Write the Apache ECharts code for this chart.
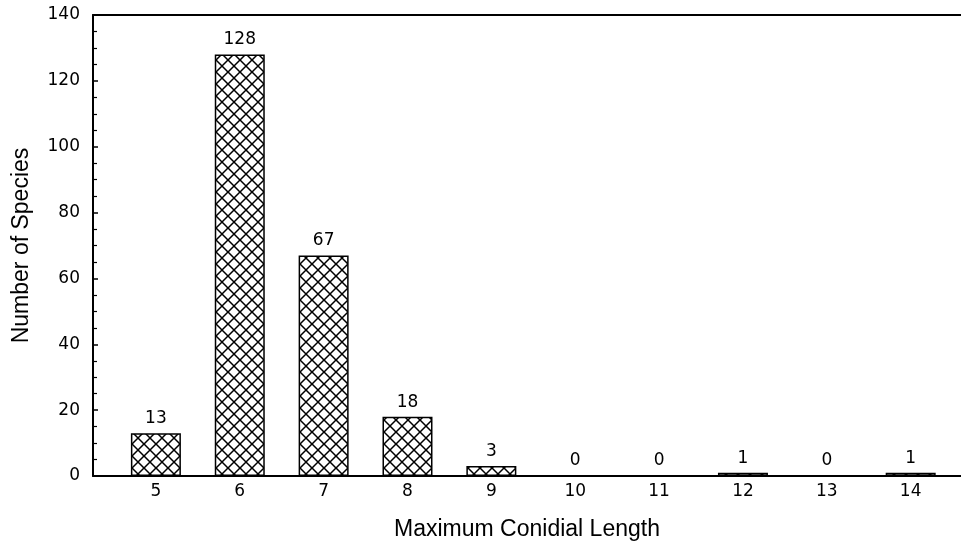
<!DOCTYPE html>
<html>
<head>
<meta charset="utf-8">
<script src="https://cdn.jsdelivr.net/npm/echarts@6/dist/echarts.min.js"></script>
<style>html,body{margin:0;padding:0;background:#fff}#c{width:961px;height:548px}</style>
</head>
<body>
<div id="c"></div>
<script>
const categories = [5, 6, 7, 8, 9, 10, 11, 12, 13, 14];
const counts = [13, 128, 67, 18, 3, 0, 0, 1, 0, 1];
const yTicks = [0, 20, 40, 60, 80, 100, 120, 140];

const pc = document.createElement('canvas');
pc.width = 12; pc.height = 12;
const g = pc.getContext('2d');
g.fillStyle = '#fff'; g.fillRect(0, 0, 12, 12);
g.strokeStyle = '#000'; g.lineWidth = 1.5;
g.beginPath();
g.moveTo(-1, -1); g.lineTo(13, 13);
g.moveTo(13, -1); g.lineTo(-1, 13);
g.stroke();

const chart = echarts.init(document.getElementById('c'));
const font = 'Liberation Sans, Arial, sans-serif';
const numFont = 'DejaVu Sans, sans-serif';
chart.setOption({
  animation: false,
  backgroundColor: '#fff',
  grid: { left: 93, right: 0, top: 15, bottom: 72 },
  xAxis: [{
    type: 'value', min: 4.25, max: 14.6,
    name: 'Maximum Conidial Length', nameLocation: 'middle', nameGap: 42,
    nameTextStyle: { color: '#000', fontSize: 23, fontFamily: font },
    axisLine: { show: true, lineStyle: { color: '#000', width: 2 } },
    axisTick: { show: false },
    splitLine: { show: false },
    axisLabel: { customValues: categories, color: '#000', fontSize: 17, fontFamily: numFont, margin: 7 }
  }, {
    type: 'value', min: 4.25, max: 14.6, position: 'top',
    axisLine: { show: true, lineStyle: { color: '#000', width: 2 } },
    axisTick: { show: false }, axisLabel: { show: false }, splitLine: { show: false }
  }],
  yAxis: {
    type: 'value', min: 0, max: 140, interval: 20,
    name: 'Number of Species', nameLocation: 'middle', nameGap: 60, nameRotate: 90,
    nameTextStyle: { color: '#000', fontSize: 23, fontFamily: font },
    axisLine: { show: true, lineStyle: { color: '#000', width: 2 } },
    axisTick: { show: true, inside: true, length: 5, lineStyle: { color: '#000', width: 1.5 } },
    minorTick: { show: true, splitNumber: 4, length: 4, lineStyle: { color: '#000', width: 1.2 } },
    splitLine: { show: false },
    axisLabel: { color: '#000', fontSize: 17, fontFamily: numFont, margin: 13,
      customValues: yTicks }
  },
  series: [{
    type: 'bar',
    barWidth: 50,
    data: categories.map((c, i) => [c, counts[i]]),
    itemStyle: { color: { image: pc, repeat: 'repeat' }, borderColor: '#000', borderWidth: 1.5 },
    label: { show: true, position: 'top', distance: 6, color: '#000', fontSize: 17, fontFamily: numFont,
      formatter: p => p.value[1] }
  }]
});
</script>
</body>
</html>
